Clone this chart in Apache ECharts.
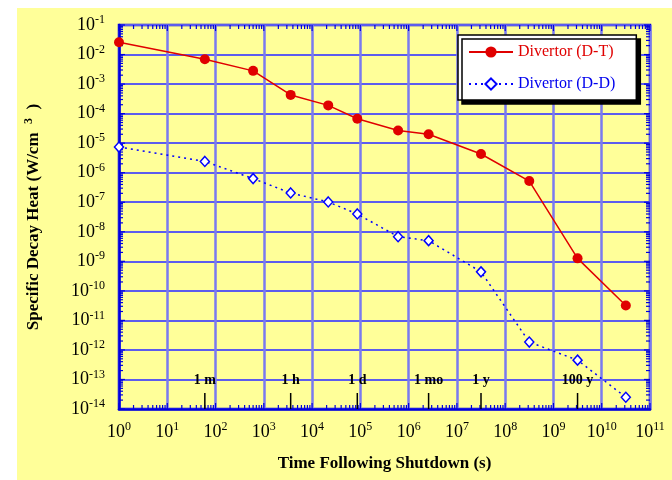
<!DOCTYPE html>
<html>
<head>
<meta charset="utf-8">
<script src="https://cdn.jsdelivr.net/npm/echarts@6/dist/echarts.min.js"></script>
<style>
html,body{margin:0;padding:0;background:#fff;}
#chart{width:672px;height:480px;}
</style>
</head>
<body>
<div id="chart"></div>
<script>
// ---- data ----
const times = [1, 60, 600, 3600, 21600, 86400, 604800, 2.592e6, 3.156e7, 3.156e8, 3.156e9, 3.156e10];
const dtValues = [2.6e-2, 6.9e-3, 2.8e-3, 4.3e-4, 1.9e-4, 6.7e-5, 2.7e-5, 2.0e-5, 4.3e-6, 5.2e-7, 1.26e-9, 3.2e-11];
const ddValues = [7.4e-6, 2.4e-6, 6.3e-7, 2.06e-7, 1.02e-7, 4.0e-8, 6.8e-9, 5.0e-9, 4.4e-10, 1.85e-12, 4.5e-13, 2.5e-14];
const markerTimes = [60, 3600, 86400, 2.592e6, 3.156e7, 3.156e9];
const markerLabels = ['1 m', '1 h', '1 d', '1 mo', '1 y', '100 y'];
const seriesNames = ['Divertor (D-T)', 'Divertor (D-D)'];
const xMin = 1, xMax = 1e11, yMin = 1e-14, yMax = 1e-1;

const FONT = "'Liberation Serif', 'Times New Roman', serif";
const AXIS_BLUE = '#0000dd';

// minor/major tick positions (axis structure)
const tickData = [];
for (let n = 0; n <= 10; n++) {
  for (let k = 1; k <= 9; k++) tickData.push([k * Math.pow(10, n), yMin, 0, k === 1 ? 6 : 4]);
}
tickData.push([xMax, yMin, 0, 6]);
for (let n = -14; n <= -2; n++) {
  for (let k = 1; k <= 9; k++) tickData.push([xMin, k * Math.pow(10, n), 1, k === 1 ? 6 : 4]);
}
tickData.push([xMin, yMax, 1, 6]);

function expLabel(v) {
  const e = Math.round(Math.log10(v));
  return '{b|10}{s|' + e + '}';
}

const chart = echarts.init(document.getElementById('chart'), null, {renderer: 'canvas'});
const tickStyle = {stroke: AXIS_BLUE, lineWidth: 1.2};

chart.setOption({
  animation: false,
  backgroundColor: '#ffffff',
  graphic: [{
    type: 'rect', left: 17, top: 8, z: -10,
    shape: {width: 655, height: 472},
    style: {fill: '#ffff99'}
  }],
  grid: {
    left: 119, top: 25, right: 22, bottom: 71,
    show: true, borderColor: AXIS_BLUE, borderWidth: 2.5, backgroundColor: 'transparent'
  },
  legend: {
    orient: 'vertical', left: 458, top: 35,
    itemWidth: 44, itemHeight: 14, itemGap: 16,
    padding: [9, 21, 8, 10],
    backgroundColor: '#ffffff', borderColor: '#000000', borderWidth: 1.5, borderRadius: 0,
    shadowColor: '#000000', shadowBlur: 0, shadowOffsetX: 4, shadowOffsetY: 4,
    textStyle: {fontFamily: FONT, fontSize: 16},
    data: [
      {name: seriesNames[0], textStyle: {color: '#e00000'}},
      {name: seriesNames[1], textStyle: {color: '#0000ee'}}
    ]
  },
  xAxis: {
    type: 'log', logBase: 10, min: xMin, max: xMax, interval: 1,
    name: 'Time Following Shutdown (s)', nameLocation: 'middle', nameGap: 46,
    nameTextStyle: {fontFamily: FONT, fontWeight: 'bold', fontSize: 17, color: '#000'},
    axisLine: {show: true, lineStyle: {color: AXIS_BLUE, width: 2.5}},
    axisTick: {show: false},
    minorTick: {show: false},
    splitLine: {show: true, lineStyle: {color: '#7a7af0', width: 2.5}},
    axisLabel: {
      margin: 12, formatter: expLabel, color: '#000',
      rich: {
        b: {fontFamily: FONT, fontSize: 18, lineHeight: 22, color: '#000'},
        s: {fontFamily: FONT, fontSize: 12, lineHeight: 12, verticalAlign: 'top', color: '#000'}
      }
    }
  },
  yAxis: {
    type: 'log', logBase: 10, min: yMin, max: yMax, interval: 1,
    name: 'Specific Decay Heat (W/cm  {s|3}  )', nameLocation: 'middle', nameGap: 74,
    nameTextStyle: {
      fontFamily: FONT, fontWeight: 'bold', fontSize: 17, color: '#000', lineHeight: 22,
      rich: {s: {fontFamily: FONT, fontWeight: 'bold', fontSize: 12, lineHeight: 10, verticalAlign: 'top', color: '#000'}}
    },
    axisLine: {show: true, lineStyle: {color: AXIS_BLUE, width: 2.5}},
    axisTick: {show: false},
    minorTick: {show: false},
    splitLine: {show: true, lineStyle: {color: '#5c5cee', width: 2}},
    axisLabel: {
      margin: 14, formatter: expLabel, color: '#000',
      rich: {
        b: {fontFamily: FONT, fontSize: 18, lineHeight: 22, color: '#000'},
        s: {fontFamily: FONT, fontSize: 12, lineHeight: 12, verticalAlign: 'top', color: '#000'}
      }
    }
  },
  series: [
    {
      type: 'custom', name: 'ticks', silent: true, z: 3,
      encode: {x: 0, y: 1},
      data: tickData,
      renderItem: function (params, api) {
        const x = api.value(0), y = api.value(1), o = api.value(2), L = api.value(3);
        if (o === 0) {
          const b = api.coord([x, yMin]), t = api.coord([x, yMax]);
          return {type: 'group', children: [
            {type: 'line', shape: {x1: b[0], y1: b[1], x2: b[0], y2: b[1] - L}, style: tickStyle},
            {type: 'line', shape: {x1: t[0], y1: t[1], x2: t[0], y2: t[1] + L}, style: tickStyle}
          ]};
        }
        const l = api.coord([xMin, y]), r = api.coord([xMax, y]);
        return {type: 'group', children: [
          {type: 'line', shape: {x1: l[0], y1: l[1], x2: l[0] + L, y2: l[1]}, style: tickStyle},
          {type: 'line', shape: {x1: r[0], y1: r[1], x2: r[0] - L, y2: r[1]}, style: tickStyle}
        ]};
      }
    },
    {
      type: 'custom', name: 'markers', silent: true, z: 4,
      encode: {x: 0, y: 1},
      data: markerTimes.map(t => [t, 1e-13]),
      renderItem: function (params, api) {
        const t = api.value(0);
        const b = api.coord([t, yMin]);
        const p = api.coord([t, api.value(1)]);
        return {type: 'group', children: [
          {type: 'line', shape: {x1: b[0], y1: b[1], x2: b[0], y2: b[1] - 16}, style: {stroke: '#000', lineWidth: 1.5}},
          {type: 'text', x: p[0], y: p[1] + 1, style: {
            text: markerLabels[params.dataIndex], fill: '#000',
            font: 'bold 14px ' + FONT, align: 'center', verticalAlign: 'middle'
          }}
        ]};
      }
    },
    {
      type: 'line', name: seriesNames[0], z: 6,
      data: times.map((t, i) => [t, dtValues[i]]),
      symbol: 'circle', symbolSize: 10,
      lineStyle: {color: '#e00000', width: 1.5},
      itemStyle: {color: '#e00000', borderColor: '#e00000', borderWidth: 0}
    },
    {
      type: 'line', name: seriesNames[1], z: 5,
      data: times.map((t, i) => [t, ddValues[i]]),
      symbol: 'diamond', symbolSize: [9, 10],
      lineStyle: {color: '#0000ff', width: 1.5, type: [2, 4]},
      itemStyle: {color: '#ffffff', borderColor: '#0000ff', borderWidth: 1.5}
    }
  ]
});
</script>
</body>
</html>
